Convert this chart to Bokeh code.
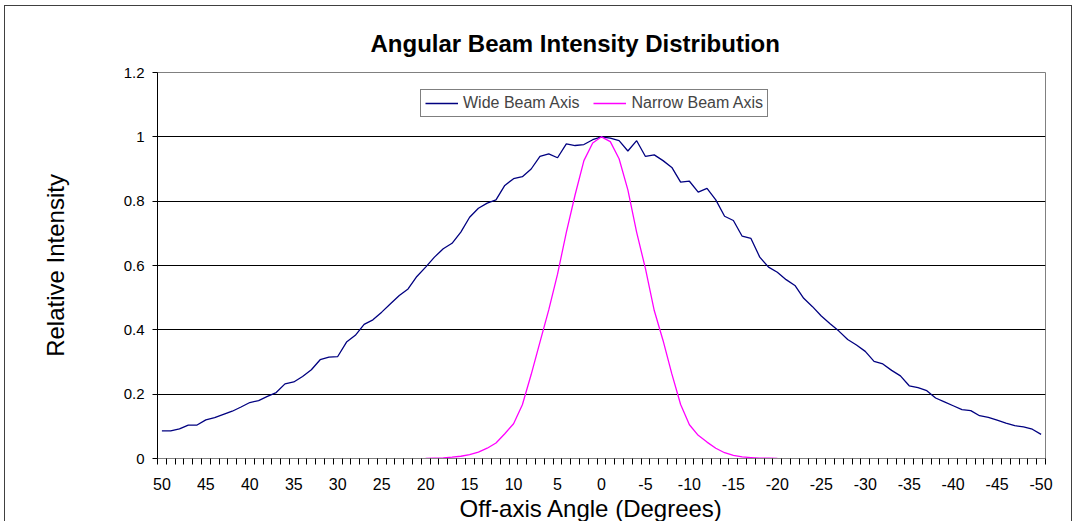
from bokeh.plotting import figure
from bokeh.models import (Range1d, FixedTicker, Legend, LegendItem, Title,
                          ColumnDataSource)
from bokeh.embed import file_html
from bokeh.resources import INLINE

# ---------------- data ----------------
angles = list(range(50, -51, -1))
wide_beam = [
    0.086, 0.086, 0.092, 0.104, 0.104, 0.120, 0.127, 0.137, 0.147, 0.160,   # 50..41
    0.174, 0.180, 0.193, 0.205, 0.232, 0.238, 0.255, 0.276, 0.307, 0.315,   # 40..31
    0.317, 0.362, 0.383, 0.417, 0.431, 0.455, 0.481, 0.507, 0.527, 0.566,   # 30..21
    0.595, 0.626, 0.652, 0.669, 0.704, 0.750, 0.778, 0.794, 0.804, 0.849,   # 20..11
    0.870, 0.876, 0.900, 0.939, 0.947, 0.935, 0.978, 0.973, 0.976, 0.991,   # 10..1
    1.000,                                                                  # 0
    0.996, 0.988, 0.956, 0.988, 0.939, 0.944, 0.926, 0.905, 0.859, 0.862,   # -1..-10
    0.828, 0.840, 0.804, 0.753, 0.740, 0.691, 0.684, 0.626, 0.595, 0.579,   # -11..-20
    0.556, 0.538, 0.498, 0.472, 0.443, 0.419, 0.396, 0.370, 0.353, 0.333,   # -21..-30
    0.302, 0.294, 0.274, 0.257, 0.226, 0.220, 0.211, 0.188, 0.176, 0.164,   # -31..-40
    0.152, 0.149, 0.133, 0.128, 0.119, 0.110, 0.102, 0.098, 0.091, 0.075,   # -41..-50
]
narrow_angles = list(range(20, -21, -1))
narrow_beam = [
    0.000, 0.001, 0.002, 0.004, 0.007, 0.012, 0.020, 0.032, 0.048, 0.077,   # 20..11
    0.108, 0.167, 0.261, 0.362, 0.462, 0.573, 0.703, 0.820, 0.926, 0.981,   # 10..1
    1.000,                                                                  # 0
    0.985, 0.932, 0.835, 0.703, 0.590, 0.460, 0.367, 0.263, 0.168, 0.105,   # -1..-10
    0.072, 0.051, 0.032, 0.018, 0.010, 0.005, 0.003, 0.001, 0.001, 0.000,   # -11..-20
]
x_ticks = [50, 45, 40, 35, 30, 25, 20, 15, 10, 5, 0, -5, -10, -15, -20, -25,
           -30, -35, -40, -45, -50]
x_tick_labels = ["50", "45", "40", "35", "30", "25", "20", "15", "10", "5", "0",
                 "-5", "-10", "-15", "-20", "-25", "-30", "-35", "-40", "-45", "-50"]
y_ticks = [0, 0.2, 0.4, 0.6, 0.8, 1.0, 1.2]
y_tick_labels = ["0", "0.2", "0.4", "0.6", "0.8", "1", "1.2"]

title_text = "Angular Beam Intensity Distribution"
x_title = "Off-axis Angle (Degrees)"
y_title = "Relative Intensity"
series_names = ["Wide Beam Axis", "Narrow Beam Axis"]

FONT = "Liberation Sans"

# category boundaries (tick marks sit between categories)
boundaries = [a + 0.5 for a in angles] + [angles[-1] - 0.5]

# ---------------- figure ----------------
p = figure(width=1076, height=521,
           x_range=Range1d(50.5, -50.5), y_range=Range1d(0, 1.2),
           output_backend="svg", toolbar_location=None,
           min_border_left=157, min_border_right=31,
           min_border_top=72, min_border_bottom=63,
           background_fill_color="white",
           border_fill_color="white", border_fill_alpha=0.0)

# outer chart-area border (drawn by the host element behind the transparent border fill)
p.styles = {
    "background-color": "white",
    "box-shadow": ("inset -4px 0 0 0 white, inset 4px 5px 0 0 white, "
                   "inset 5px 6px 0 0 #404040, inset -5px 0 0 0 #404040"),
}

src_w = ColumnDataSource(dict(angle=angles, intensity=wide_beam))
src_n = ColumnDataSource(dict(angle=narrow_angles, intensity=narrow_beam))
r_w = p.line("angle", "intensity", source=src_w, line_color="#000080", line_width=1.3)
r_n = p.line("angle", "intensity", source=src_n, line_color="#FF00FF", line_width=1.3)

# x axis
xa = p.xaxis[0]
xa.ticker = FixedTicker(ticks=x_ticks, minor_ticks=boundaries)
xa.major_label_overrides = dict(zip(x_ticks, x_tick_labels))
xa.major_tick_out = 0
xa.major_tick_in = 0
xa.minor_tick_out = 6
xa.minor_tick_in = 0
xa.minor_tick_line_color = "black"
xa.axis_line_color = "#808080"
xa.major_label_standoff = 13
xa.major_label_text_font = FONT
xa.major_label_text_font_size = "16px"
xa.major_label_text_color = "black"

# y axis
ya = p.yaxis[0]
ya.ticker = FixedTicker(ticks=y_ticks)
ya.major_label_overrides = dict(zip(y_ticks, y_tick_labels))
ya.major_tick_out = 5
ya.major_tick_in = 0
ya.minor_tick_line_color = None
ya.axis_line_color = "black"
ya.major_tick_line_color = "black"
ya.major_label_standoff = 8
ya.major_label_text_font = FONT
ya.major_label_text_font_size = "15px"
ya.major_label_text_color = "black"
ya.axis_label = y_title
ya.axis_label_text_font = FONT
ya.axis_label_text_font_size = "24px"
ya.axis_label_text_font_style = "normal"
ya.axis_label_text_color = "black"
ya.axis_label_standoff = 52

# grid
p.xgrid.visible = False
p.ygrid.ticker = FixedTicker(ticks=y_ticks[1:-1])
p.ygrid.grid_line_color = "black"
p.outline_line_color = "#808080"

# legend
legend = Legend(items=[LegendItem(label=series_names[0], renderers=[r_w]),
                       LegendItem(label=series_names[1], renderers=[r_n])],
                location=(263, 341), orientation="horizontal",
                border_line_color="black", border_line_width=1,
                background_fill_color="white", background_fill_alpha=1.0,
                label_text_font=FONT, label_text_font_size="16px",
                glyph_width=33, glyph_height=16, label_height=16,
                label_standoff=5, spacing=14, padding=4, margin=0)
p.add_layout(legend)

# chart title (above) and x-axis title (below)
p.title = Title(text=title_text, text_font=FONT, text_font_size="24px",
                text_font_style="bold", text_color="black",
                align="left", offset=213, standoff=32)
p.add_layout(Title(text=x_title, text_font=FONT, text_font_size="24px",
                   text_font_style="normal", text_color="black",
                   align="left", offset=302, standoff=0), "below")

open("out.html", "w").write(file_html(p, INLINE))
